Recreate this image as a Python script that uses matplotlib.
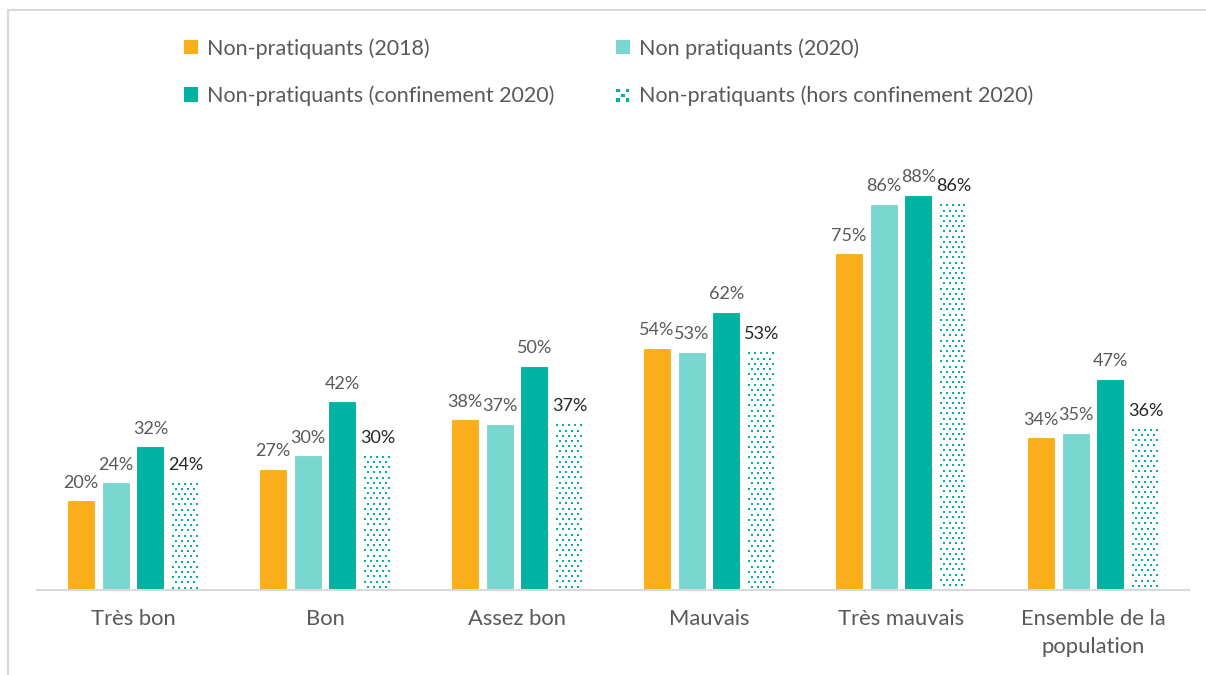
import matplotlib
matplotlib.use("Agg")
import matplotlib.pyplot as plt
from matplotlib.patches import Patch, Rectangle
from matplotlib.lines import Line2D
from matplotlib.legend_handler import HandlerBase
import numpy as np

plt.rcParams['font.family'] = ['Lato', 'DejaVu Sans']

categories = ["Très bon", "Bon", "Assez bon", "Mauvais", "Très mauvais",
              "Ensemble de la\npopulation"]
series_names = ["Non-pratiquants (2018)", "Non pratiquants (2020)",
                "Non-pratiquants (confinement 2020)",
                "Non-pratiquants (hors confinement 2020)"]
np_2018 = [20, 27, 38, 54, 75, 34]
np_2020 = [24, 30, 37, 53, 86, 35]
np_conf_2020 = [32, 42, 50, 62, 88, 47]
np_hors_conf_2020 = [24, 30, 37, 53, 86, 36]

ORANGE = "#FBAE1B"
LIGHT_TEAL = "#79D6CF"
TEAL = "#00B2A2"
GREY_TXT = "#595959"
DARK_TXT = "#262626"
AXIS_GREY = "#D9D9D9"

W, H = 1206, 675
fig = plt.figure(figsize=(W / 100, H / 100), dpi=100)
ax = fig.add_axes([37 / W, 1 - 590 / H, (1189 - 37) / W, 0.665])

x = np.arange(len(categories))
step = 0.182
width = 0.146
offsets = [-1.5, -0.5, 0.5, 1.5]

ax.set_xlim(-0.5, len(categories) - 0.5)
ax.set_ylim(0, 100)

# pixel -> data scale factors for the dot pattern
bbox = ax.get_position()
px_per_x = bbox.width * W / (len(categories))
px_per_y = bbox.height * H / 100.0
DOT_DX, DOT_DY, DOT_PX = 5.8, 5.2, 2.8


def dotted_fill(axis, x0, x1, y0, y1):
    """Fill a rectangle (data coords) with a staggered grid of small squares,
    rows laid out from the top edge downwards."""
    xs_all, ys_all = [], []
    dy = DOT_DY / px_per_y
    dx = DOT_DX / px_per_x
    half = DOT_PX / 2
    row = 0
    y = y1 - half / px_per_y
    while y >= y0 + half / px_per_y:
        shift = (dx / 2) if row % 2 else 0
        xx = x0 + (half + 0.5) / px_per_x + shift
        while xx <= x1 - half / px_per_x:
            xs_all.append(xx)
            ys_all.append(y)
            xx += dx
        y -= dy
        row += 1
    size_pt = DOT_PX * 72 / 100
    axis.scatter(xs_all, ys_all, marker="s", s=size_pt ** 2, color=TEAL,
                 linewidths=0, zorder=3)


series = [np_2018, np_2020, np_conf_2020, np_hors_conf_2020]
face_colors = [ORANGE, LIGHT_TEAL, TEAL, None]
label_colors = [GREY_TXT, GREY_TXT, GREY_TXT, DARK_TXT]

for vals, off, fc, lc in zip(series, offsets, face_colors, label_colors):
    if fc is None:
        bars = ax.bar(x + off * step, vals, width, facecolor="white",
                      linewidth=0)
        for b in bars:
            dotted_fill(ax, b.get_x(), b.get_x() + b.get_width(),
                        0, b.get_height())
    else:
        bars = ax.bar(x + off * step, vals, width, color=fc,
                      edgecolor="white", linewidth=0.8)
    for b, v in zip(bars, vals):
        ax.annotate(f"{v}%", (b.get_x() + b.get_width() / 2, v),
                    xytext=(0, 7), textcoords="offset points",
                    ha="center", va="bottom", fontsize=13, color=lc)

ax.set_yticks([])
ax.set_xticks(x)
ax.set_xticklabels(categories, fontsize=15.8, color=GREY_TXT, linespacing=1.5)
ax.tick_params(axis="x", length=0, pad=14)
for side in ["left", "right", "top"]:
    ax.spines[side].set_visible(False)
ax.spines["bottom"].set_color(AXIS_GREY)
ax.spines["bottom"].set_linewidth(1.5)


class DottedHandle:
    pass


class DottedHandler(HandlerBase):
    def create_artists(self, legend, orig_handle, xdescent, ydescent,
                       width, height, fontsize, trans):
        arts = []
        n = 3
        cell = width / n
        for i in range(n):
            for j in range(n):
                if (i + j) % 2:
                    continue
                arts.append(Rectangle(
                    (-xdescent + i * cell, -ydescent + j * cell),
                    cell * 0.75, cell * 0.75, facecolor=TEAL,
                    edgecolor="none", transform=trans))
        return arts


dot_handle = DottedHandle()
handles = [
    Patch(facecolor=ORANGE, edgecolor="none"),
    Patch(facecolor=TEAL, edgecolor="none"),
    Patch(facecolor=LIGHT_TEAL, edgecolor="none"),
    dot_handle,
]
labels = [series_names[0], series_names[2], series_names[1], series_names[3]]
fig.legend(handles, labels, loc="upper left",
           bbox_to_anchor=(184 / W, 1 - 38 / H), ncol=2,
           frameon=False, fontsize=15.5, labelcolor=GREY_TXT,
           handlelength=0.65, handleheight=0.65, handletextpad=0.4,
           columnspacing=2.9, labelspacing=1.25,
           borderpad=0, borderaxespad=0,
           handler_map={DottedHandle: DottedHandler()})

# chart frame
fig.add_artist(Line2D([8 / W, 8 / W], [0, 1 - 10 / H],
                      transform=fig.transFigure, color=AXIS_GREY, lw=1.5))
fig.add_artist(Line2D([8 / W, 1], [1 - 10 / H, 1 - 10 / H],
                      transform=fig.transFigure, color=AXIS_GREY, lw=1.5))

fig.savefig("out.png", dpi=100, facecolor="white")
